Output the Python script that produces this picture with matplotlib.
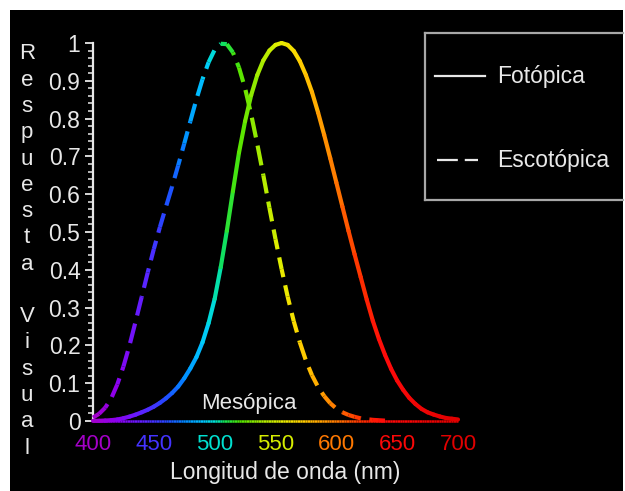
import numpy as np
import matplotlib
matplotlib.use('Agg')
import matplotlib.pyplot as plt
from matplotlib.collections import LineCollection
from matplotlib.colors import LinearSegmentedColormap
from matplotlib.lines import Line2D
from matplotlib.patches import Rectangle
from matplotlib.ticker import MultipleLocator

plt.rcParams['font.family'] = ['Liberation Sans', 'DejaVu Sans']
plt.rcParams['lines.scale_dashes'] = False

# ---------------- data ----------------
wl_photopic = list(range(400, 705, 5))
v_photopic = [0.0004, 0.0006, 0.0012, 0.0022, 0.004, 0.0073, 0.0116, 0.0168, 0.023, 0.0298,
              0.038, 0.048, 0.060, 0.074, 0.091, 0.113, 0.139, 0.169, 0.208, 0.259,
              0.323, 0.407, 0.503, 0.608, 0.710, 0.793, 0.862, 0.915, 0.954, 0.980,
              0.995, 1.000, 0.995, 0.979, 0.952, 0.915, 0.870, 0.816, 0.757, 0.695,
              0.631, 0.567, 0.503, 0.441, 0.381, 0.321, 0.265, 0.217, 0.175, 0.138,
              0.107, 0.082, 0.061, 0.045, 0.032, 0.023, 0.017, 0.012, 0.008, 0.006,
              0.004]

wl_scotopic = list(range(400, 645, 5))
v_scotopic = [0.009, 0.019, 0.035, 0.060, 0.097, 0.144, 0.200, 0.263, 0.328, 0.393,
              0.455, 0.513, 0.567, 0.620, 0.676, 0.734, 0.793, 0.851, 0.904, 0.949,
              0.982, 0.998, 0.997, 0.975, 0.935, 0.880, 0.811, 0.733, 0.650, 0.564,
              0.481, 0.402, 0.329, 0.264, 0.208, 0.160, 0.121, 0.090, 0.066, 0.047,
              0.033, 0.023, 0.016, 0.011, 0.007, 0.005, 0.003, 0.002, 0.001]

xticks = [400, 450, 500, 550, 600, 650, 700]
xtick_labels = ['400', '450', '500', '550', '600', '650', '700']
yticks = [0, 0.1, 0.2, 0.3, 0.4, 0.5, 0.6, 0.7, 0.8, 0.9, 1.0]
ytick_labels = ['0', '0.1', '0.2', '0.3', '0.4', '0.5', '0.6', '0.7', '0.8', '0.9', '1']

legend_labels = ['Fotópica', 'Escotópica']
xlabel = 'Longitud de onda (nm)'
ylabel = 'Respuesta Visual'
note = 'Mesópica'

# ---------------- spectrum colours ----------------
stops = [(400, '#a400c8'), (420, '#8c00f0'), (440, '#6020ff'), (460, '#2448ff'),
         (475, '#0088ff'), (490, '#00c8ff'), (500, '#00e0d0'), (507, '#10e060'),
         (520, '#50e400'), (540, '#b0ec00'), (555, '#e6ee00'), (570, '#ffd400'),
         (585, '#ffa600'), (600, '#ff7800'), (620, '#ff3000'), (640, '#ff0a0a'),
         (700, '#e00000')]
cmap = LinearSegmentedColormap.from_list(
    'spec', [((w - 400) / 300, c) for w, c in stops])


def wcol(w):
    return cmap(np.clip((w - 400) / 300.0, 0, 1))


# ---------------- figure ----------------
W, H, DPI = 625, 491, 100
fig = plt.figure(figsize=(W / DPI, H / DPI), dpi=DPI, facecolor='white')


def fx(px):
    return px / W


def fy(py):
    return 1 - py / H


fig.patches.append(Rectangle((fx(10), 0), fx(623) - fx(10), fy(10), transform=fig.transFigure,
                             facecolor='black', edgecolor='none', zorder=-10))

L, R, T, B = 93, 458, 43, 421
ax = fig.add_axes([fx(L), fy(B), fx(R) - fx(L), fy(T) - fy(B)])
ax.set_facecolor('none')
ax.set_xlim(400, 700)
ax.set_ylim(0, 1)

for s in ['top', 'right', 'bottom']:
    ax.spines[s].set_visible(False)
ax.spines['left'].set_color('#e8e8e8')
ax.spines['left'].set_linewidth(1.6)

# solid (photopic) curve
x = np.array(wl_photopic, float)
y = np.array(v_photopic, float)
pts = np.column_stack([x, y])
segs = np.stack([pts[:-1], pts[1:]], axis=1)
cols = [wcol(m) for m in (x[:-1] + x[1:]) / 2]
lc = LineCollection(segs, colors=cols, linewidths=3.0, capstyle='round',
                    joinstyle='round', clip_on=False, zorder=3)
ax.add_collection(lc)

# dashed (scotopic) curve with continuous dash pattern
x2 = np.array(wl_scotopic, float)
y2 = np.array(v_scotopic, float)
pts2 = np.column_stack([x2, y2])
segs2 = np.stack([pts2[:-1], pts2[1:]], axis=1)
disp = ax.transData.transform(pts2)
seglen = np.hypot(*np.diff(disp, axis=0).T) * 72.0 / DPI
cum = np.concatenate([[0], np.cumsum(seglen)[:-1]])
dash, gap = 14.5, 6.0
period = dash + gap
ls = [((c % period), (dash, gap)) for c in cum]
cols2 = [wcol(m) for m in (x2[:-1] + x2[1:]) / 2]
lc2 = LineCollection(segs2, colors=cols2, linewidths=3.0, linestyles=ls,
                     capstyle='butt', joinstyle='round', clip_on=False, zorder=3)
ax.add_collection(lc2)

# coloured x axis line
ax_w = np.arange(400, 701, 2)
ax_pts = np.column_stack([ax_w, np.zeros_like(ax_w, dtype=float)])
ax_segs = np.stack([ax_pts[:-1], ax_pts[1:]], axis=1)
lc3 = LineCollection(ax_segs, colors=[wcol(m) for m in (ax_w[:-1] + ax_w[1:]) / 2],
                     linewidths=1.8, clip_on=False, zorder=2)
ax.add_collection(lc3)

# ticks
ax.set_yticks(yticks)
ax.set_yticklabels(ytick_labels)
ax.yaxis.set_minor_locator(MultipleLocator(0.02))
ax.tick_params(axis='y', which='major', direction='out', length=6, width=1.3,
               colors='#e8e8e8', labelsize=16.5, pad=3)
ax.tick_params(axis='y', which='minor', direction='out', length=3.5, width=1.1,
               colors='#e8e8e8')

ax.set_xticks(xticks)
ax.set_xticklabels(xtick_labels)
ax.xaxis.set_minor_locator(MultipleLocator(10))
ax.tick_params(axis='x', which='major', direction='out', length=5, width=1.3,
               labelsize=16, pad=4)
ax.tick_params(axis='x', which='minor', direction='out', length=4, width=1.1)
for t, lab in zip(ax.xaxis.get_major_ticks(), ax.get_xticklabels()):
    c = wcol(t.get_loc())
    t.tick1line.set_color(c)
    lab.set_color(c)
for t in ax.xaxis.get_minor_ticks():
    t.tick1line.set_color(wcol(t.get_loc()))

# axis labels
ax.set_xlabel(xlabel, fontsize=16.5, color='#e8e8e8', va='center')
ax.xaxis.set_label_coords((285 - L) / (R - L), -(472 - B) / (B - T))
ax.set_ylabel('\n'.join(ylabel), fontsize=16, color='#e8e8e8', rotation=0,
              ha='center', va='center', linespacing=1.33)
ax.yaxis.set_label_coords((27 - L) / (R - L), (B - 251) / (B - T))

ax.text(528, 0.045, note, fontsize=16, color='#e8e8e8', ha='center', va='center')

# legend box (manual)
box_col = '#a8a8a8'
for (xa, ya), (xb, yb) in [((425, 33), (623, 33)), ((425, 33), (425, 200)),
                           ((425, 200), (623, 200))]:
    fig.add_artist(Line2D([fx(xa), fx(xb)], [fy(ya), fy(yb)], color=box_col, lw=1.6,
                          transform=fig.transFigure))
fig.add_artist(Line2D([fx(435), fx(485)], [fy(76), fy(76)], color='#e8e8e8', lw=1.6,
                      transform=fig.transFigure))
fig.add_artist(Line2D([fx(437), fx(478)], [fy(160), fy(160)], color='#e8e8e8', lw=1.6,
                      dashes=(15, 5), transform=fig.transFigure))
fig.text(fx(497), fy(76), legend_labels[0], fontsize=16.5, color='#e8e8e8', va='center')
fig.text(fx(497), fy(160), legend_labels[1], fontsize=16.5, color='#e8e8e8', va='center')

fig.savefig('out.png', dpi=DPI, facecolor='white')
